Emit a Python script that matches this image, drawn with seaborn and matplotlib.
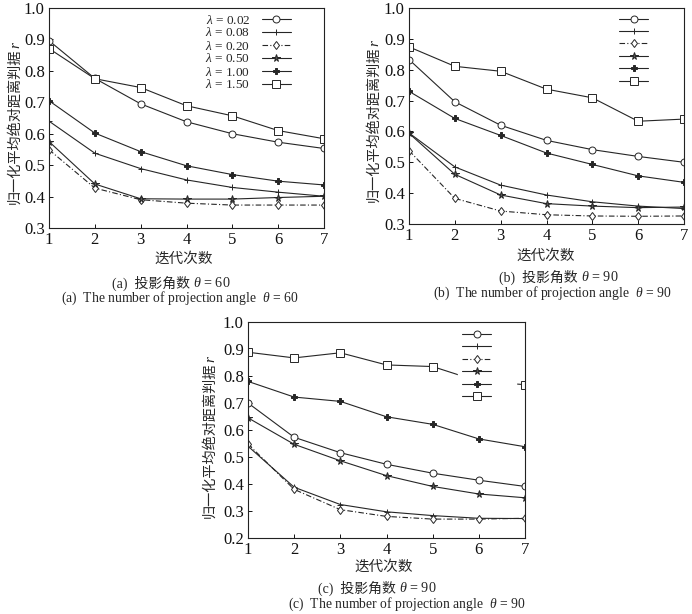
import matplotlib
matplotlib.use("Agg")
import matplotlib.pyplot as plt
import seaborn as sns
import numpy as np

# ---------------- data ----------------
iterations = [1, 2, 3, 4, 5, 6, 7]
lambda_labels = ["0.02", "0.08", "0.20", "0.50", "1.00", "1.50"]

# panel (a) theta = 60
a_l002 = [0.896, 0.776, 0.695, 0.638, 0.600, 0.573, 0.553]
a_l008 = [0.640, 0.538, 0.489, 0.453, 0.429, 0.414, 0.401]
a_l020 = [0.549, 0.427, 0.390, 0.379, 0.373, 0.373, 0.373]
a_l050 = [0.575, 0.440, 0.393, 0.392, 0.392, 0.397, 0.401]
a_l100 = [0.705, 0.602, 0.543, 0.498, 0.470, 0.449, 0.437]
a_l150 = [0.871, 0.775, 0.747, 0.689, 0.657, 0.610, 0.584]

# panel (b) theta = 90
b_l002 = [0.833, 0.696, 0.620, 0.571, 0.541, 0.519, 0.500]
b_l008 = [0.595, 0.485, 0.426, 0.394, 0.372, 0.358, 0.350]
b_l020 = [0.538, 0.383, 0.342, 0.330, 0.326, 0.325, 0.326]
b_l050 = [0.594, 0.461, 0.394, 0.366, 0.358, 0.353, 0.355]
b_l100 = [0.730, 0.642, 0.587, 0.530, 0.493, 0.456, 0.435]
b_l150 = [0.874, 0.811, 0.795, 0.737, 0.709, 0.633, 0.640]

# panel (c) theta = 90
c_l002 = [0.700, 0.573, 0.516, 0.473, 0.440, 0.414, 0.391]
c_l008 = [0.540, 0.388, 0.324, 0.297, 0.283, 0.273, 0.272]
c_l020 = [0.548, 0.380, 0.305, 0.280, 0.270, 0.270, 0.273]
c_l050 = [0.645, 0.547, 0.486, 0.431, 0.391, 0.363, 0.349]
c_l100 = [0.780, 0.722, 0.706, 0.649, 0.621, 0.567, 0.538]
c_l150 = [0.888, 0.867, 0.886, 0.841, 0.835, 0.780, 0.768]

panel_a = [a_l002, a_l008, a_l020, a_l050, a_l100, a_l150]
panel_b = [b_l002, b_l008, b_l020, b_l050, b_l100, b_l150]
panel_c = [c_l002, c_l008, c_l020, c_l050, c_l100, c_l150]

# ---------------- style ----------------
sns.set_style("ticks")
plt.rcParams["font.family"] = ["Liberation Serif", "Noto Sans CJK SC", "DejaVu Sans"]
plt.rcParams["mathtext.fontset"] = "custom"
plt.rcParams["mathtext.rm"] = "Liberation Serif"
plt.rcParams["mathtext.it"] = "Liberation Serif:italic"
plt.rcParams["mathtext.bf"] = "Liberation Serif:bold"
plt.rcParams["axes.unicode_minus"] = False

LINE_COLOR = "#262626"
markers = ["o", "+", "d", "*", "P", "s"]
msizes = [5.0, 5.0, 4.5, 5.5, 3.8, 5.5]
mfaces = ["white", LINE_COLOR, "white", "#555555", LINE_COLOR, "white"]
lstyles = ["-", "-", (0, (5, 2, 1, 2)), "-", "-", "-"]

W, H = 692, 614
fig = plt.figure(figsize=(W / 100, H / 100), dpi=100)


def rect(x0, x1, ytop, ybot):
    return [x0 / W, 1 - ybot / H, (x1 - x0) / W, (ybot - ytop) / H]


def draw_panel(ax, series, ymin):
    handles = []
    for vals, m, ms, fc, ls, lab in zip(series, markers, msizes, mfaces, lstyles, lambda_labels):
        sns.lineplot(x=iterations, y=vals, ax=ax, color=LINE_COLOR, lw=0.8,
                     marker=m, markersize=ms, markerfacecolor=fc,
                     markeredgecolor=LINE_COLOR, markeredgewidth=0.7,
                     linestyle=ls, label=lab)
        handles.append(ax.lines[-1])
    ax.set_xlim(1, 7)
    ax.set_ylim(ymin, 1.0)
    ax.set_xticks(iterations)
    yt = np.round(np.arange(ymin, 1.0001, 0.1), 1)
    ax.set_yticks(yt)
    ax.set_yticklabels([f"{v:.1f}" for v in yt])
    ax.tick_params(direction="in", length=3, width=0.7, labelsize=12, pad=3,
                   colors="#111111")
    for sp in ax.spines.values():
        sp.set_linewidth(0.8)
        sp.set_color("#222222")
    ax.set_xlabel("")
    ax.set_ylabel("")
    return handles


# ---- panel a ----
ax_a = fig.add_axes(rect(49, 324, 8, 228))
h = draw_panel(ax_a, panel_a, 0.3)
ax_a.legend(h, [r"$\lambda$ = " + l for l in lambda_labels], loc="upper right",
            bbox_to_anchor=(0.88, 0.975), frameon=False, markerfirst=False,
            fontsize=9.5, labelspacing=0.0, handlelength=2.2, handleheight=0.5,
            handletextpad=0.9, borderpad=0, borderaxespad=0)

# ---- panel b ----
ax_b = fig.add_axes(rect(409, 684, 8, 224))
h = draw_panel(ax_b, panel_b, 0.3)
ax_b.legend(h, [""] * 6, loc="upper right",
            bbox_to_anchor=(0.87, 0.975), frameon=False,
            fontsize=10.5, labelspacing=-0.05, handlelength=2.0,
            handletextpad=0.0, borderpad=0, borderaxespad=0)

# ---- panel c ----
ax_c = fig.add_axes(rect(248, 525, 322, 538))
h = draw_panel(ax_c, panel_c, 0.2)
leg_c = ax_c.legend(h, [""] * 6, loc="upper left",
                    bbox_to_anchor=(0.757, 0.99), frameon=True,
                    fontsize=10.5, labelspacing=-0.05, handlelength=2.0,
                    handletextpad=1.4, borderpad=0.3, borderaxespad=0)
leg_c.get_frame().set_facecolor("white")
leg_c.get_frame().set_edgecolor("white")
leg_c.get_frame().set_alpha(1.0)
leg_c.get_frame().set_boxstyle("square", pad=0)

# ---- axis labels & captions ----
def ftext(xpx, ypx, s, **kw):
    kw.setdefault("ha", "center")
    kw.setdefault("va", "center")
    return fig.text(xpx / W, 1 - ypx / H, s, **kw)

ylabel_cjk = "归一化平均绝对距离判据"
for xpx, ytop in [(15, 49), (374, 47), (210, 363)]:
    ftext(xpx, ytop, ylabel_cjk, rotation=90, fontsize=10.2, va="top")
    ftext(xpx + 0.5, ytop - 1, "r", rotation=90, fontsize=11, va="bottom",
          fontstyle="italic")

xlabel_txt = "迭代次数"
ftext(184, 259, xlabel_txt, fontsize=10.5)
ftext(546, 256, xlabel_txt, fontsize=10.5)
ftext(384, 567, xlabel_txt, fontsize=10.5)


def caption(xc, ypx, tag, theta):
    left = f"({tag})  投影角数 "
    right = r"$\theta$ = " + theta
    ftext(xc + 12, ypx, left, fontsize=10, ha="right")
    ftext(xc + 12, ypx, right, fontsize=10.2, ha="left")


caption(181, 283, "a", "60")
ftext(180, 298, r"(a)  The number of projection angle  $\theta$ = 60", fontsize=9.8)
caption(569, 277, "b", "90")
ftext(552, 293, r"(b)  The number of projection angle  $\theta$ = 90", fontsize=9.8)
caption(387, 588, "c", "90")
ftext(407, 604, r"(c)  The number of projection angle  $\theta$ = 90", fontsize=9.8)

fig.savefig("out.png", dpi=100, facecolor="white")
